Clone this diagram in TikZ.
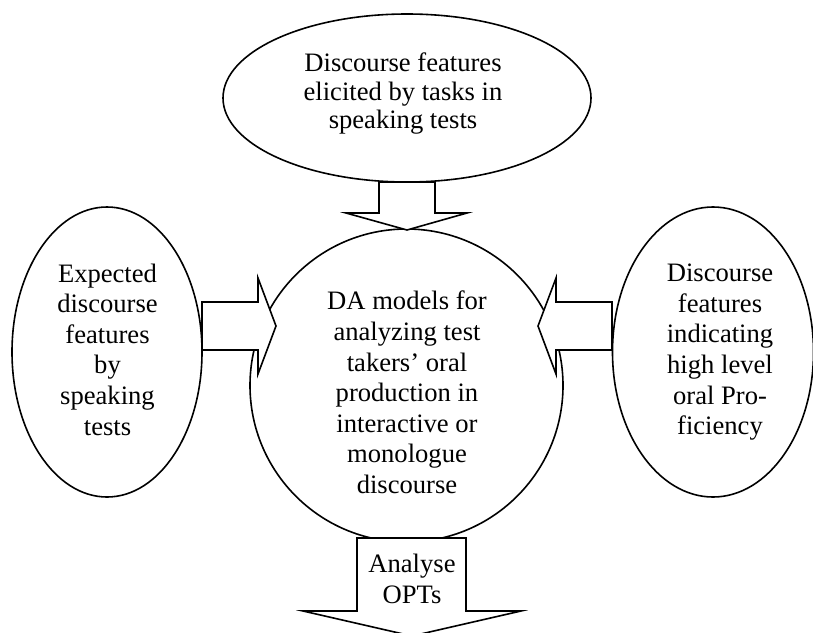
\documentclass[tikz,border=0pt]{standalone}
\usepackage{fontspec}
\setmainfont{Liberation Serif}
\usetikzlibrary{shapes.geometric}
\begin{document}
\begin{tikzpicture}[x=1pt,y=-1pt,
  shapeline/.style={draw=black,line width=1.6pt},
  ov/.style={shapeline, ellipse, inner sep=0pt},
  lbl/.style={align=center, inner sep=0pt, font=\fontsize{26.6}{30.6}\selectfont},
  lbltop/.style={align=center, inner sep=0pt, font=\fontsize{26.6}{28.3}\selectfont},
  blockarrow/.style={shapeline, fill=white, line join=miter}]
\useasboundingbox (0,0) rectangle (813,632);
% shapes
\node[ov, minimum width=368pt, minimum height=168pt] (topE) at (407,98) {};
\node[ov, minimum width=190pt, minimum height=290pt] (leftE) at (107,352) {};
\node[ov, minimum width=201pt, minimum height=290pt] (rightE) at (713,352) {};
\node[shapeline, circle, minimum size=313pt, inner sep=0pt] (mid) at (406.5,385.5) {};
% block arrows
\draw[blockarrow] (379,182) -- (379,213) -- (346,213) -- (407,230) -- (467,213) -- (435,213) -- (435,182) -- cycle;
\draw[blockarrow] (202,302) -- (258,302) -- (258,278) -- (276,326) -- (258,374) -- (258,350) -- (202,350) -- cycle;
\draw[blockarrow] (612,302) -- (556,302) -- (556,278) -- (538,326) -- (556,374) -- (556,350) -- (612,350) -- cycle;
\draw[blockarrow] (357,538) -- (466,538) -- (466,611) -- (521,611) -- (412,636) -- (303,611) -- (357,611) -- cycle;
% texts
\node[lbltop] (tTxt) at (403,93.8) {Discourse features\\elicited by tasks in\\speaking tests};
\node[lbl] (lTxt) at (107.5,349.5) {Expected\\discourse\\features\\by\\speaking\\tests};
\node[lbl] (rTxt) at (720,352.3) {Discourse\\features\\indicating\\high level\\oral Pro-\\ficiency};
\node[lbl] (mTxt) at (407,392.4) {DA models for\\analyzing test\\takers’ oral\\production in\\interactive or\\monologue\\discourse};
\node[lbl] (bTxt) at (412,578.9) {Analyse\\OPTs};
\end{tikzpicture}
\end{document}
